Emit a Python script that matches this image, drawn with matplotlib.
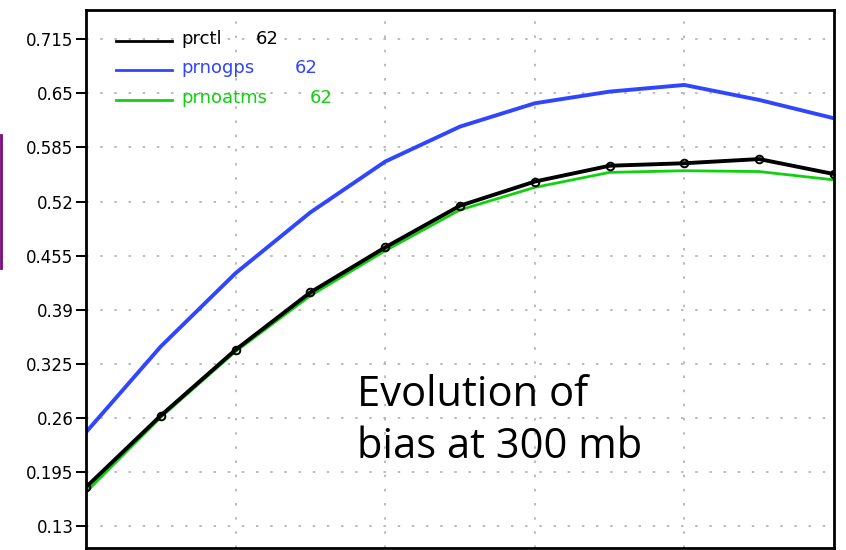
import matplotlib
matplotlib.use("Agg")
import matplotlib.pyplot as plt
from matplotlib.lines import Line2D

# forecast step (grid every 1 unit, points every 0.5)
steps = [0, 0.5, 1, 1.5, 2, 2.5, 3, 3.5, 4, 4.5, 5]

prctl = [0.177, 0.263, 0.342, 0.411, 0.465, 0.515, 0.544, 0.563, 0.566, 0.571, 0.553]
prnogps = [0.243, 0.346, 0.434, 0.507, 0.568, 0.610, 0.638, 0.652, 0.660, 0.642, 0.620]
prnoatms = [0.171, 0.261, 0.340, 0.407, 0.461, 0.510, 0.537, 0.555, 0.557, 0.556, 0.546]

yticks = [0.13, 0.195, 0.26, 0.325, 0.39, 0.455, 0.52, 0.585, 0.65, 0.715]
ytick_labels = ["0.13", "0.195", "0.26", "0.325", "0.39", "0.455", "0.52", "0.585", "0.65", "0.715"]

names = ["prctl", "prnogps", "prnoatms"]
counts = ["62", "62", "62"]
colors = ["black", "#2f45ff", "#10d010"]

fig = plt.figure(figsize=(8.46, 5.5), dpi=100)
ax = fig.add_axes([86 / 846, 1 - 548 / 550, 748 / 846, 538 / 550])

ax.plot(steps, prnogps, color=colors[1], lw=2.8)
ax.plot(steps, prnoatms, color=colors[2], lw=2.0)
ax.plot(steps, prctl, color=colors[0], lw=2.8, marker="o", ms=5.5, mfc="none", mew=1.4)

ax.set_xlim(0, 5)
ax.set_ylim(0.104, 0.750)
ax.set_xticks([1, 2, 3, 4])
ax.set_xticklabels([])
ax.tick_params(axis="x", length=0)
ax.set_yticks(yticks)
ax.set_yticklabels(ytick_labels)
ax.tick_params(axis="y", direction="out", length=7, width=1.4, labelsize=12, pad=2)
ax.grid(True, color="#b0b0b0", linestyle=(0, (1.5, 7)), lw=1.2)
for s in ax.spines.values():
    s.set_linewidth(2)

# legend in the GrADS style: short line + name + count
count_x = [0.227, 0.279, 0.299]
for i in range(len(names)):
    y = 0.943 - i * 0.055
    ax.plot([0.04, 0.115], [y, y], transform=ax.transAxes, color=colors[i], lw=2)
    ax.text(0.127, y + 0.004, names[i], transform=ax.transAxes, color=colors[i],
            fontsize=13, va="center", ha="left")
    ax.text(count_x[i], y + 0.004, counts[i], transform=ax.transAxes, color=colors[i],
            fontsize=13, va="center", ha="left")

ax.text(0.362, 0.236, "Evolution of\nbias at 300 mb", transform=ax.transAxes,
        fontsize=30, family="Open Sans", va="center", ha="left", linespacing=1.3)

# purple bar at the left edge of the slide
fig.add_artist(Line2D([0.0015, 0.0015], [1 - 268 / 550, 1 - 135 / 550],
                      transform=fig.transFigure, color="#7a0a7a", lw=2))

fig.savefig("out.png", dpi=100)
